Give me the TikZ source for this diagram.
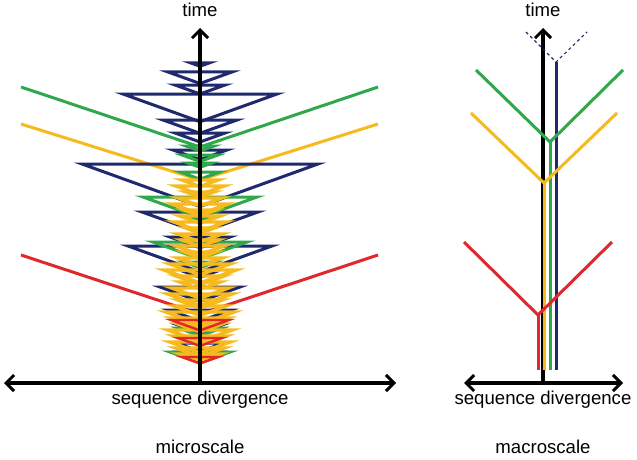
\documentclass[tikz,border=0pt]{standalone}
\usepackage{fontspec}
\setmainfont{Liberation Sans}
\usepackage{tikz}
\usetikzlibrary{arrows.meta}
\definecolor{navyT}{HTML}{1F2A6E}
\definecolor{greenT}{HTML}{2FA84B}
\definecolor{yellowT}{HTML}{F6BA1E}
\definecolor{redT}{HTML}{E0282C}

\begin{document}
\begin{tikzpicture}[x=1pt, y=-1pt,
  >={Straight Barb[length=8pt, width=16pt, line width=3pt]},
  ax/.style={line width=3.2pt, black},
  zz/.style={line width=3pt},
  br/.style={line width=3pt},
  lbl/.style={font=\fontsize{18.6}{22}\selectfont, anchor=base}
]
\fill[white] (0,0) rectangle (637,460);
\useasboundingbox (0,0) rectangle (637,460);

% microscale: axes
\coordinate (mb) at (200,383);
\coordinate (mt) at (200,28);
\coordinate (ml) at (4,383);
\coordinate (mr) at (396,383);

% microscale: long V lines, behind everything
\draw[br, greenT] (21,87) -- (200,147) -- (378,87);
\draw[br, yellowT] (21,124) -- (200,180) -- (378,124);
\draw[br, redT] (21,255) -- (200,314) -- (378,255);

% microscale: zigzags (y / half width)
\foreach \y/\w in {63/9, 72/32, 85/25, 94/77, 120/37, 133/25, 150/27, 164/118,
                   212/58, 237/30, 246/72, 273/12, 287/40, 310/31, 325/22, 343/24, 352/20}
  \draw[zz, navyT] ({200-\w},\y) -- ({200+\w},\y) -- (200,{\y+0.36*\w}) -- cycle;
\foreach \y/\w in {146/14, 155/18, 163/12, 172/20, 197/57, 218/12, 242/47, 262/16,
                   300/18, 328/22, 352/30}
  \draw[zz, greenT] ({200-\w},\y) -- ({200+\w},\y) -- (200,{\y+0.36*\w}) -- cycle;
\foreach \y/\w in {180/18, 186/24, 192/14, 198/22, 204/28, 210/16, 216/20, 222/26,
                   228/14, 234/22, 240/18, 246/24, 252/16, 258/22, 264/30, 270/36,
                   276/24, 282/20, 288/28, 294/32, 300/22, 306/26, 312/34, 318/28,
                   324/22, 330/32, 336/26, 342/30, 348/24, 354/20, 358/14}
  \draw[zz, yellowT, line width=3.4pt] ({200-\w},\y) -- ({200+\w},\y) -- (200,{\y+0.36*\w}) -- cycle;
\foreach \y/\w in {320/29, 338/22, 357/18}
  \draw[zz, redT, line width=2.4pt] ({200-\w},\y) -- ({200+\w},\y) -- (200,{\y+0.36*\w}) -- cycle;

\draw[ax, ->] (mb) -- (mt);
\draw[ax, <->] (ml) -- (mr);
\node[lbl] (mtime) at (200,17) {time};
\node[lbl] (mseq) at (200,404) {sequence divergence};
\node[lbl] (mname) at (200,453) {microscale};

% macroscale: axes
\coordinate (Mb) at (543,383);
\coordinate (Mt) at (543,28);
\coordinate (Ml) at (464,383);
\coordinate (Mr) at (623,383);
\draw[ax, ->] (Mb) -- (Mt);
\draw[ax, <->] (Ml) -- (Mr);

% macroscale: lineages
\coordinate (bv) at (556,62);
\coordinate (gv) at (550,142);
\coordinate (yv) at (544,183);
\coordinate (rv) at (538,315);
\draw[navyT, line width=1.1pt, dashed] (526,32) -- (bv) -- (587,32);
\draw[br, navyT] (bv) -- (556,370);
\draw[br, greenT] (476,70) -- (gv) -- (623,70);
\draw[br, greenT] (gv) -- (550,370);
\draw[br, yellowT] (471,113) -- (yv) -- (617,113);
\draw[br, yellowT] (yv) -- (544,370);
\draw[br, redT] (464,242) -- (rv) -- (612,242);
\draw[br, redT] (rv) -- (538,370);

\node[lbl] (Mtime) at (543,17) {time};
\node[lbl] (Mseq) at (543,404) {sequence divergence};
\node[lbl] (Mname) at (543,453) {macroscale};
\end{tikzpicture}
\end{document}
